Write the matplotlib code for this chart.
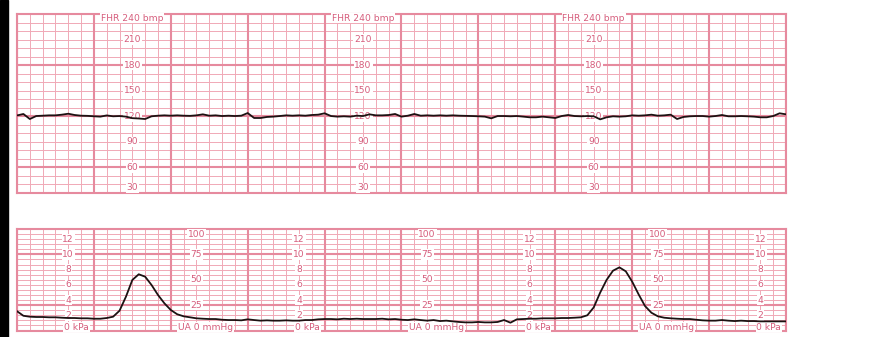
import matplotlib
matplotlib.use("Agg")
import matplotlib.pyplot as plt
import numpy as np
from matplotlib.patches import Rectangle

# FHR trace (bpm), one reading every 5 s over 10 minutes
fhr = [121.0, 122.7, 116.8, 120.3, 120.7, 121.1, 121.1, 121.9, 123.0, 121.5,
       120.7, 120.5, 120.0, 119.6, 121.0, 120.0, 120.3, 119.6, 117.8, 117.4,
       116.8, 120.0, 120.7, 121.1, 120.7, 121.1, 120.7, 120.5, 121.1, 122.3,
       120.7, 121.1, 120.3, 120.7, 120.3, 120.7, 123.8, 118.0, 118.0, 119.2,
       119.6, 120.3, 121.1, 120.7, 121.1, 120.7, 121.5, 121.9, 123.5, 120.3,
       119.6, 120.0, 119.6, 120.7, 120.3, 122.3, 121.1, 121.1, 121.5, 122.7,
       119.6, 120.7, 122.7, 120.7, 121.1, 120.7, 121.1, 120.7, 121.1, 120.7,
       120.5, 120.3, 120.0, 119.6, 117.6, 120.3, 120.3, 120.0, 120.3, 119.6,
       118.8, 118.8, 119.6, 118.8, 118.0, 120.3, 121.5, 120.3, 120.0, 120.3,
       120.0, 116.4, 118.8, 120.0, 119.6, 120.0, 121.1, 120.7, 121.1, 121.9,
       120.7, 121.1, 121.9, 116.8, 119.2, 120.0, 120.3, 120.3, 119.6, 120.3,
       121.5, 120.0, 120.0, 120.3, 120.0, 119.6, 118.8, 118.8, 120.3, 123.5,
       122.3]

# uterine activity (mmHg), same sampling
ua = [19.0, 14.5, 13.6, 13.3, 13.3, 13.0, 13.0, 12.6, 12.3, 12.3,
      12.0, 12.0, 11.6, 11.6, 12.3, 13.6, 19.5, 33.3, 49.8, 55.4,
      53.0, 44.8, 35.0, 26.8, 20.2, 16.0, 14.0, 13.0, 12.0, 11.6,
      11.3, 11.3, 10.6, 10.3, 10.3, 10.0, 11.0, 10.3, 9.7, 10.0,
      9.7, 9.7, 10.0, 9.7, 9.7, 10.3, 10.3, 11.0, 11.3, 11.3,
      11.0, 11.6, 11.3, 11.6, 11.3, 11.3, 11.3, 11.6, 11.0, 11.3,
      10.6, 10.3, 11.0, 10.3, 9.7, 10.3, 9.3, 9.7, 9.0, 8.4,
      8.0, 8.0, 8.4, 8.0, 8.0, 8.4, 10.3, 7.7, 11.0, 11.3,
      11.6, 11.6, 12.0, 12.0, 12.0, 12.3, 12.3, 12.6, 13.0, 15.0,
      22.8, 37.3, 49.8, 58.9, 62.2, 58.3, 48.1, 35.6, 24.1, 17.5,
      14.0, 12.6, 12.0, 11.6, 11.3, 11.3, 10.6, 10.0, 9.7, 9.7,
      10.3, 9.7, 9.3, 9.7, 9.3, 9.3, 9.0, 9.0, 9.0, 9.0,
      9.0]

minutes = np.arange(len(fhr)) * 5 / 60.0

fhr_ticks = [210, 180, 150, 120, 90, 60]
kpa_ticks = [12, 10, 8, 6, 4, 2]
ua_ticks = [75, 50, 25]
fhr_label_cols = [1.5, 4.5, 7.5]
kpa_label_cols = [2 / 3, 11 / 3, 20 / 3, 29 / 3]
ua_label_cols = [7 / 3, 16 / 3, 25 / 3]

minor_col = '#f0a9b6'
major_col = '#e68a9e'
text_col = '#d65d7c'
trace_col = '#1c1212'

fig = plt.figure(figsize=(8.79, 3.37), dpi=100)
fig.patches.append(Rectangle((0, 0), 8 / 879, 1, transform=fig.transFigure,
                             color='black', zorder=10))

ax1 = fig.add_axes([17 / 879, (337 - 193) / 337, 769 / 879, 179 / 337])
ax2 = fig.add_axes([17 / 879, (337 - 330.5) / 337, 769 / 879, 101.5 / 337])


def grid_panel(ax, ymin, ymax, minor_step, majors):
    ax.set_xlim(0, 10)
    ax.set_ylim(ymin, ymax)
    for v in np.arange(0, 10.01, 1 / 6):
        if abs(v - round(v)) < 1e-6:
            ax.axvline(v, color=major_col, lw=1.5, zorder=1)
        else:
            ax.axvline(v, color=minor_col, lw=0.7, zorder=0)
    for v in np.arange(ymin, ymax + 0.01, minor_step):
        if v in majors:
            ax.axhline(v, color=major_col, lw=1.5, zorder=1)
        else:
            ax.axhline(v, color=minor_col, lw=0.7, zorder=0)
    ax.set_xticks([])
    ax.set_yticks([])
    for s in ax.spines.values():
        s.set_color(major_col)
        s.set_linewidth(1.5)


grid_panel(ax1, 30, 240, 10, [60, 120, 180])
grid_panel(ax2, 0, 100, 5, [25, 75])

lbl = dict(color=text_col, fontsize=6.6, ha='center', va='center', zorder=3,
           bbox=dict(facecolor='white', edgecolor='none', pad=0.6))
px = 1 / 76.9  # one pixel in minutes

for c in fhr_label_cols:
    ax1.text(c, 235.3, 'FHR 240 bmp', **lbl)
    for v in fhr_ticks:
        ax1.text(c, v, str(v), **lbl)
    ax1.text(c, 36, '30', **lbl)

for c in kpa_label_cols:
    for v in kpa_ticks:
        ax2.text(c, v * 7.5, str(v), **lbl)
    ax2.text(c - 4 * px, 3.4, '0 kPa', **{**lbl, 'ha': 'left'})

for c in ua_label_cols:
    ax2.text(c, 95, '100', **lbl)
    for v in ua_ticks:
        ax2.text(c, v, str(v), **lbl)
    ax2.text(c + 9 * px, 3.4, 'UA 0 mmHg', **lbl)

ax1.plot(minutes, fhr, color=trace_col, lw=1.3, zorder=4)
ax2.plot(minutes, ua, color=trace_col, lw=1.3, zorder=4)

fig.savefig('out.png', dpi=100)
